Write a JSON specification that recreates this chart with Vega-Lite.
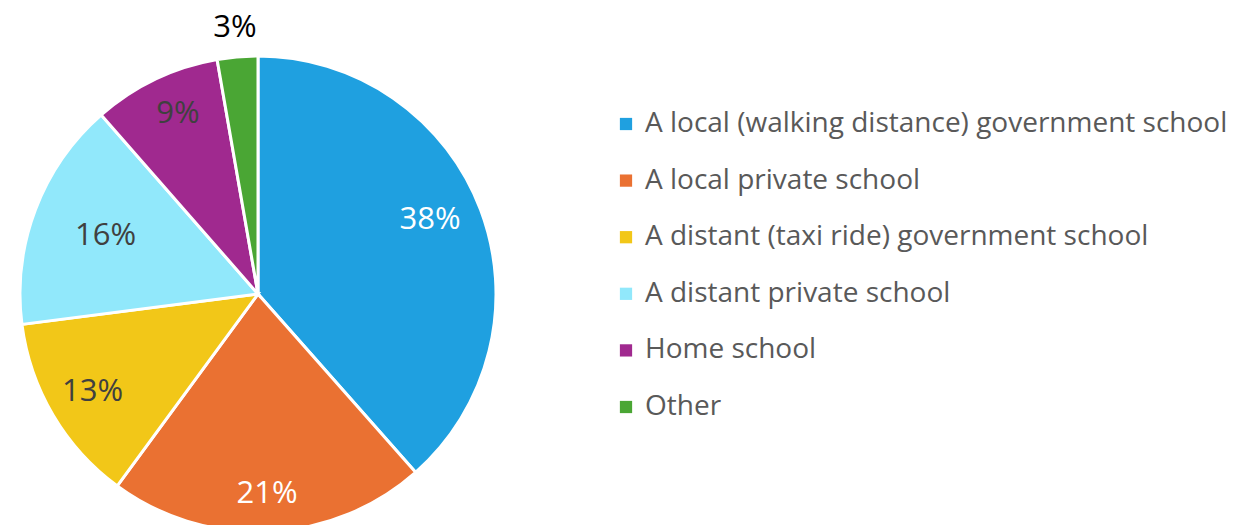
{
  "$schema": "https://vega.github.io/schema/vega-lite/v6.json",
  "width": 476,
  "height": 476,
  "autosize": "none",
  "padding": {"left": 20, "top": 56, "right": 754, "bottom": 0},
  "background": "white",
  "data": {"values": [
    {"category": "A local (walking distance) government school", "value": 38.5, "label": "38%", "order": 1},
    {"category": "A local private school", "value": 21.6, "label": "21%", "order": 2},
    {"category": "A distant (taxi ride) government school", "value": 12.9, "label": "13%", "order": 3},
    {"category": "A distant private school", "value": 15.6, "label": "16%", "order": 4},
    {"category": "Home school", "value": 8.7, "label": "9%", "order": 5},
    {"category": "Other", "value": 2.75, "label": "3%", "order": 6}
  ]},
  "encoding": {
    "theta": {"field": "value", "type": "quantitative", "stack": true},
    "order": {"field": "order", "type": "quantitative"}
  },
  "layer": [
    {
      "mark": {"type": "arc", "outerRadius": 238, "stroke": "white", "strokeWidth": 3},
      "encoding": {
        "color": {
          "field": "category", "type": "nominal",
          "sort": ["A local (walking distance) government school", "A local private school", "A distant (taxi ride) government school", "A distant private school", "Home school", "Other"],
          "scale": {
            "domain": ["A local (walking distance) government school", "A local private school", "A distant (taxi ride) government school", "A distant private school", "Home school", "Other"],
            "range": ["#1FA0E0", "#EA7132", "#F2C718", "#91E8FB", "#A0298F", "#4AA634"]
          },
          "legend": {
            "title": null,
            "orient": "none",
            "legendX": 592,
            "legendY": 54,
            "symbolType": "square",
            "symbolSize": 150,
            "symbolStrokeWidth": 0,
            "labelFont": "Open Sans",
            "labelFontSize": 28,
            "labelColor": "#595959",
            "labelLimit": 800,
            "rowPadding": 28.6,
            "labelOffset": 5
          }
        }
      }
    },
    {
      "mark": {"type": "text", "radius": 184, "dy": -9, "font": "Open Sans", "fontSize": 31, "color": "white"},
      "encoding": {"text": {"condition": {"test": "datum.order == 1", "field": "label"}, "value": ""}}
    },
    {
      "mark": {"type": "text", "radius": 200, "font": "Open Sans", "fontSize": 31, "color": "white"},
      "encoding": {"text": {"condition": {"test": "datum.order == 2", "field": "label"}, "value": ""}}
    },
    {
      "mark": {"type": "text", "radius": 192, "font": "Open Sans", "fontSize": 31, "color": "#404040"},
      "encoding": {"text": {"condition": {"test": "datum.order == 3", "field": "label"}, "value": ""}}
    },
    {
      "mark": {"type": "text", "radius": 195, "dx": 4, "dy": -4, "font": "Open Sans", "fontSize": 31, "color": "#404040"},
      "encoding": {"text": {"condition": {"test": "datum.order == 5", "field": "label"}, "value": ""}}
    },
    {
      "mark": {"type": "text", "radius": 163, "font": "Open Sans", "fontSize": 31, "color": "#404040"},
      "encoding": {"text": {"condition": {"test": "datum.order == 4", "field": "label"}, "value": ""}}
    },
    {
      "mark": {"type": "text", "radius": 267, "font": "Open Sans", "fontSize": 31, "color": "black"},
      "encoding": {"text": {"condition": {"test": "datum.order == 6", "field": "label"}, "value": ""}}
    }
  ]
}
